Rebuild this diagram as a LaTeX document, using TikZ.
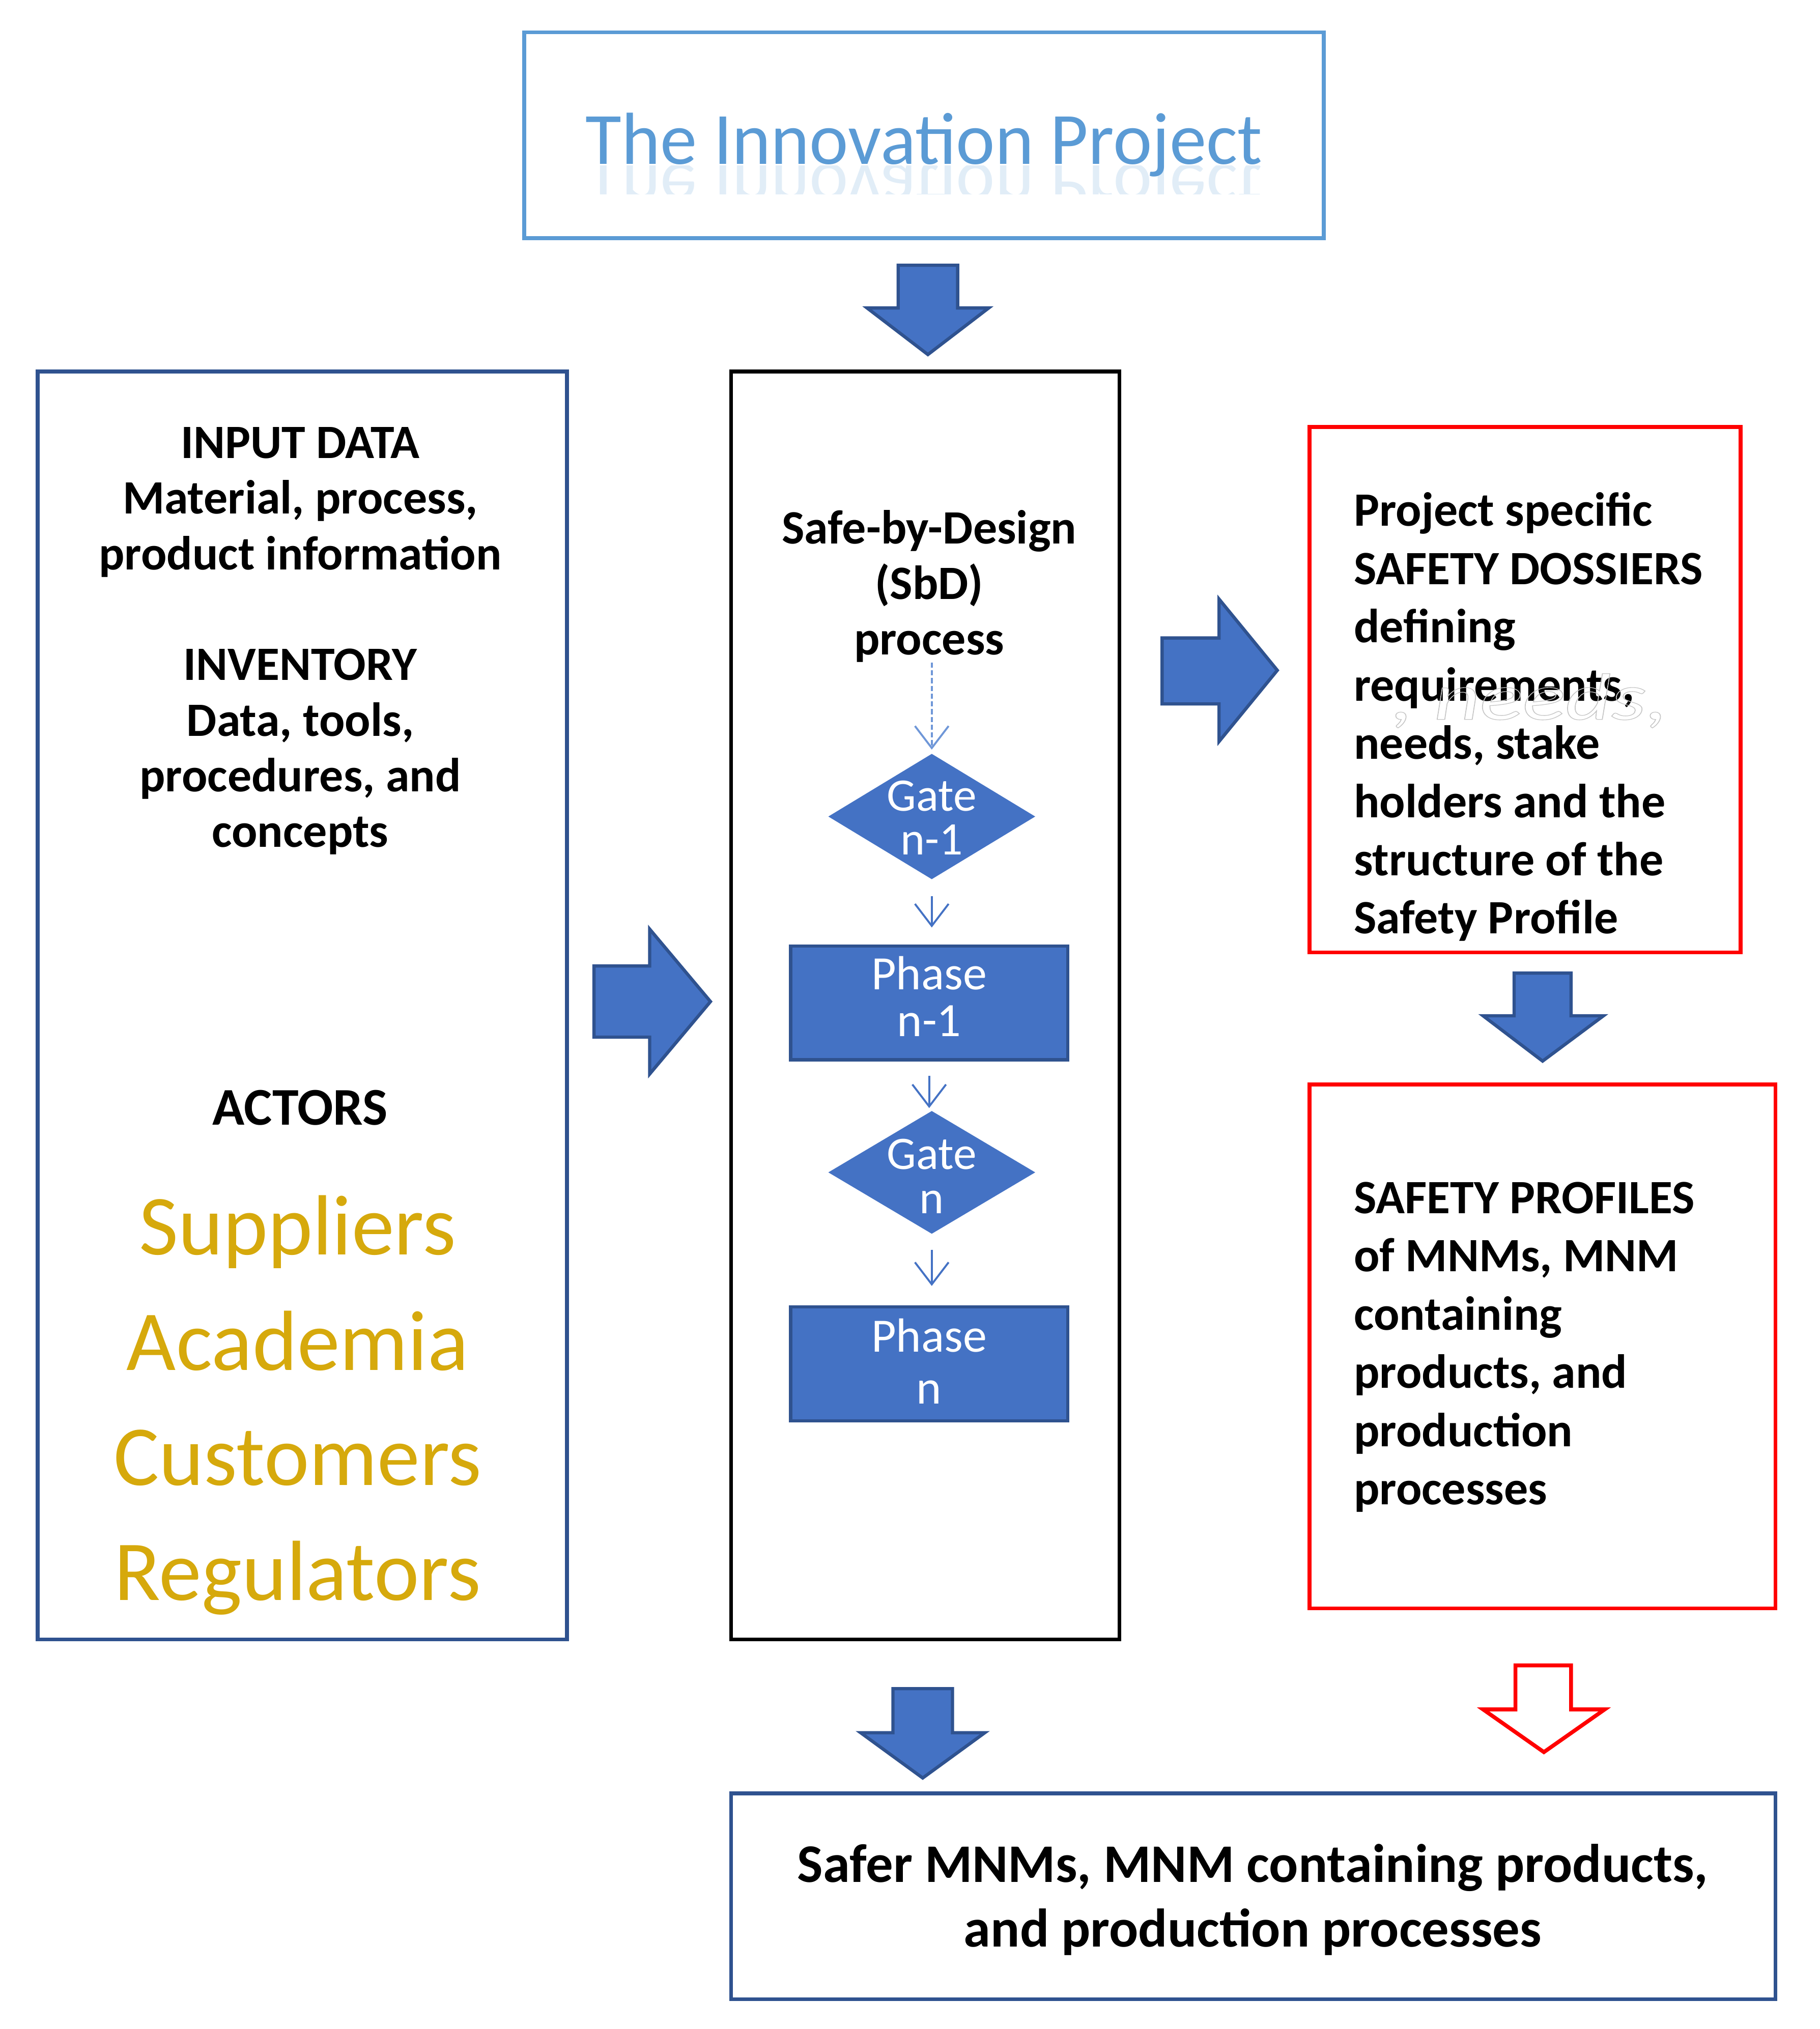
\documentclass[tikz,border=0pt]{standalone}
\usepackage{fontspec}
\setmainfont{Carlito}
\usetikzlibrary{arrows.meta,shapes.geometric}
\definecolor{bfill}{HTML}{4472C4}
\definecolor{bdark}{HTML}{2F528F}
\definecolor{lblue}{HTML}{5B9BD5}
\definecolor{goldc}{HTML}{D6A90C}
\definecolor{redc}{HTML}{FF0000}
\definecolor{dashc}{HTML}{6F97D8}
\begin{document}
\begin{tikzpicture}[x=1pt,y=-1pt,
  frame/.style={draw, line width=3pt, inner sep=0pt, rectangle},
  blk/.style={fill=bfill, draw=bdark, line width=2.5pt, line join=miter},
  redarrow/.style={fill=white, draw=redc, line width=3pt, line join=miter},
  gateshape/.style={diamond, fill=bfill, draw=none, inner sep=0pt, minimum width=160pt, minimum height=97pt},
  gatetext/.style={text=white, align=center, inner sep=0pt, font=\fontsize{36}{34}\selectfont},
  phasebox/.style={rectangle, fill=bfill, draw=bdark, line width=2.5pt, minimum width=214pt, minimum height=88pt},
  phasetext/.style={text=white, align=center, inner sep=0pt, font=\fontsize{37}{36}\selectfont},
  flow/.style={draw=bfill, line width=1.5pt, -{Straight Barb[length=17pt,width=26pt,line width=1.5pt]}},
  bodytext/.style={font=\bfseries\fontsize{37}{43}\selectfont, inner sep=0pt},
  sidetext/.style={font=\bfseries\fontsize{37}{45}\selectfont, inner sep=0pt, align=left, anchor=west},
]
\useasboundingbox (0,0) rectangle (1406,1568);

% frames
\node[frame, draw=lblue, minimum width=618pt, minimum height=159pt] (topbox) at (714,104.5) {};
\node[frame, draw=bdark, minimum width=409pt, minimum height=980pt] (leftbox) at (233.5,777) {};
\node[frame, draw=black, minimum width=300pt, minimum height=980pt] (midbox) at (715,777) {};
\node[frame, draw=redc, minimum width=333pt, minimum height=406pt] (dossier) at (1178.5,533) {};
\node[frame, draw=redc, minimum width=360pt, minimum height=405pt] (profiles) at (1192,1040.5) {};
\node[frame, draw=bdark, minimum width=807pt, minimum height=159pt] (result) at (968.5,1465.5) {};

% title with reflection
\node[anchor=base, text=lblue, font=\fontsize{57}{60}\selectfont, inner sep=0pt] (title) at (714,127) {The Innovation Project};
\begin{scope}
  \clip (430,128) rectangle (1000,150);
  \begin{scope}[shift={(0,127)}, yscale=-1, shift={(0,-127)}]
    \node[transform shape, anchor=base, text=lblue, opacity=0.18, font=\fontsize{57}{60}\selectfont, inner sep=0pt] (titlerefl) at (714,127) {The Innovation Project};
  \end{scope}
\end{scope}

% block arrows
\draw[blk] (694,205) -- (740,205) -- (740,238) -- (764,238) -- (717,274) -- (670,238) -- (694,238) -- cycle;
\draw[blk] (459,746.5) -- (502,746.5) -- (502,718) -- (549,774) -- (502,830) -- (502,801.5) -- (459,801.5) -- cycle;
\draw[blk] (898,493) -- (942,493) -- (942,463) -- (987,518) -- (942,573) -- (942,544) -- (898,544) -- cycle;
\draw[blk] (1170,752) -- (1214,752) -- (1214,785) -- (1239,785) -- (1192,820) -- (1146,785) -- (1170,785) -- cycle;
\draw[blk] (690,1305) -- (736,1305) -- (736,1339) -- (761,1339) -- (713,1374) -- (665,1339) -- (690,1339) -- cycle;
\draw[redarrow] (1171,1287) -- (1214,1287) -- (1214,1321) -- (1240,1321) -- (1193,1354) -- (1146,1321) -- (1171,1321) -- cycle;

% left column text
\node[bodytext, align=center] (inputtxt) at (232,388) {INPUT DATA\\Material, process,\\product information};
\node[bodytext, align=center] (invtxt) at (232,581) {INVENTORY\\Data, tools,\\procedures, and\\concepts};
\node[font=\bfseries\fontsize{41}{45}\selectfont, inner sep=0pt] (actors) at (232,856) {ACTORS};
\node[font=\fontsize{66}{89}\selectfont, text=goldc, align=center, inner sep=0pt] (actorlist) at (230,1086) {Suppliers\\Academia\\Customers\\Regulators};

% middle column
\node[bodytext, align=center] (sbd) at (718,453) {Safe-by-Design\\(SbD)\\process};
\node[gateshape] (g1) at (720,631) {};
\node[gatetext] (g1t) at (720,632) {Gate\\n-1};
\node[phasebox] (p1) at (718,775) {};
\node[phasetext] (p1t) at (718,770) {Phase\\n-1};
\node[gateshape, minimum height=95pt] (g2) at (720,906) {};
\node[gatetext] (g2t) at (720,909) {Gate\\n};
\node[phasebox] (p2) at (718,1054) {};
\node[phasetext, font=\fontsize{37}{40}\selectfont] (p2t) at (718,1052) {Phase\\n};

\coordinate (d0) at (720,512);
\draw[flow, draw=dashc, dash pattern=on 4pt off 2pt, shorten >=3pt] (d0) -- (g1.north);
\draw[flow, shorten <=13pt, shorten >=13pt] (g1.south) -- (g1.south |- p1.north);
\draw[flow, shorten <=11pt, shorten >=2pt] (p1.south) -- (p1.south |- g2.north);
\draw[flow, shorten <=12pt, shorten >=15pt] (g2.south) -- (g2.south |- p2.north);

% right column text
\node[sidetext] (dostxt) at (1046,554) {Project specific\\SAFETY DOSSIERS\\defining\\requirements,\\needs, stake\\holders and the\\structure of the\\Safety Profile};
\node[font=\itshape\fontsize{60}{60}\selectfont, text=gray!45, xscale=1.15, yscale=0.85, anchor=base west, inner sep=0pt] (ghost) at (1075,556) {\special{pdf:literal direct 1 Tr 0.6 w}, needs,\special{pdf:literal direct 0 Tr 1 w}};
\node[sidetext] (proftxt) at (1046,1041) {SAFETY PROFILES\\of MNMs, MNM\\containing\\products, and\\production\\processes};

% bottom text
\node[font=\bfseries\fontsize{42}{50}\selectfont, align=center, inner sep=0pt] (restxt) at (968,1468) {Safer MNMs, MNM containing products,\\and production processes};
\end{tikzpicture}
\end{document}
